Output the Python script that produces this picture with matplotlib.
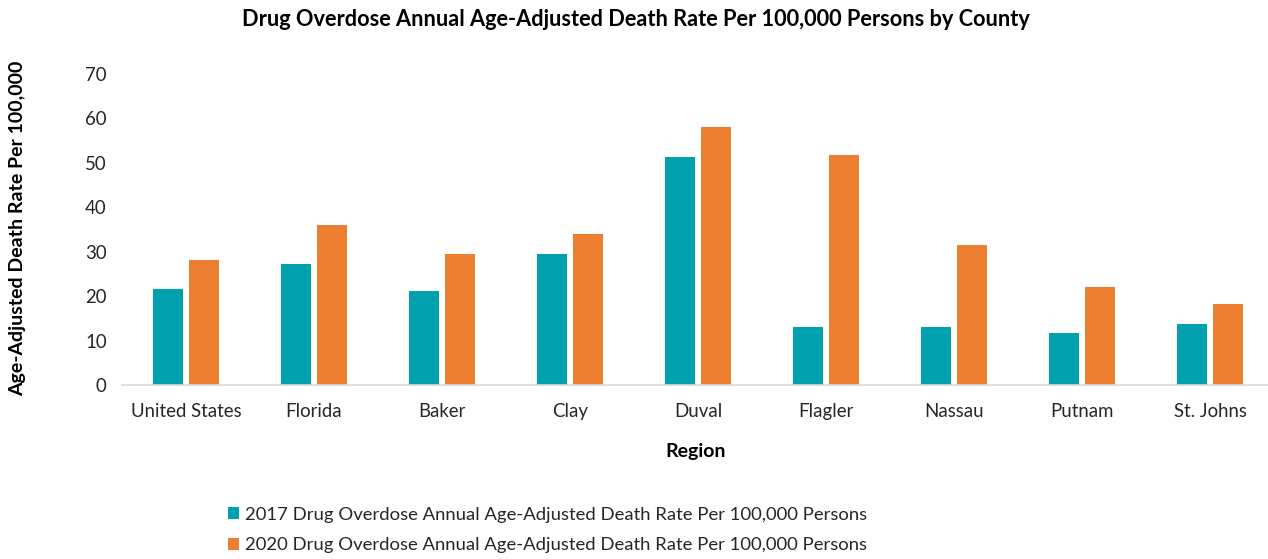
import matplotlib
matplotlib.use("Agg")
import matplotlib.pyplot as plt
import numpy as np

regions = ["United States", "Florida", "Baker", "Clay", "Duval", "Flagler",
           "Nassau", "Putnam", "St. Johns"]
rate_2017 = [21.6, 27.2, 21.2, 29.5, 51.3, 13.1, 13.0, 11.7, 13.7]
rate_2020 = [28.1, 36.0, 29.5, 34.0, 58.1, 51.8, 31.4, 22.1, 18.2]
label_2017 = "2017 Drug Overdose Annual Age-Adjusted Death Rate Per 100,000 Persons"
label_2020 = "2020 Drug Overdose Annual Age-Adjusted Death Rate Per 100,000 Persons"

plt.rcParams['font.family'] = ['Lato', 'DejaVu Sans']

W, H = 1268, 559
fig = plt.figure(figsize=(W / 100, H / 100), dpi=100)
ax = fig.add_axes([122 / W, 1 - 385 / H, 1152 / W, (385 - 74) / H])

x = np.arange(len(regions))
w = 0.23
b1 = ax.bar(x - 0.14, rate_2017, w, color="#00A0AF", label=label_2017)
b2 = ax.bar(x + 0.14, rate_2020, w, color="#ED7D31", label=label_2020)

ax.set_xlim(-0.5, len(regions) - 0.5)
ax.set_ylim(0, 70)
ax.set_yticks(range(0, 71, 10))
ax.set_xticks(x)
ax.set_xticklabels(regions)
ax.tick_params(axis="both", length=0, labelsize=13.4, colors="#262626")
ax.tick_params(axis="y", pad=11)
ax.tick_params(axis="x", pad=13)
for s in ["top", "right", "left"]:
    ax.spines[s].set_visible(False)
ax.spines["bottom"].set_color("#D9D9D9")
ax.spines["bottom"].set_linewidth(1.2)

fig.text(636 / W, 1 - 20 / H, "Drug Overdose Annual Age-Adjusted Death Rate Per 100,000 Persons by County",
         ha="center", va="center", fontsize=15.7, fontweight="bold", color="#000000")
fig.text(18 / W, 1 - 228 / H, "Age-Adjusted Death Rate Per 100,000", rotation=90,
         ha="center", va="center", fontsize=14, fontweight="bold", color="#000000")
fig.text(696 / W, 1 - 451 / H, "Region", ha="center", va="center",
         fontsize=14, fontweight="bold", color="#000000")

leg = fig.legend(handles=[b1, b2], loc="upper left", bbox_to_anchor=(211 / W, 1 - 490 / H),
                 frameon=False, fontsize=13.3, handlelength=0.6, handleheight=0.6,
                 handletextpad=0.35, labelspacing=0.8, labelcolor="#262626")

fig.savefig("out.png", dpi=100)
